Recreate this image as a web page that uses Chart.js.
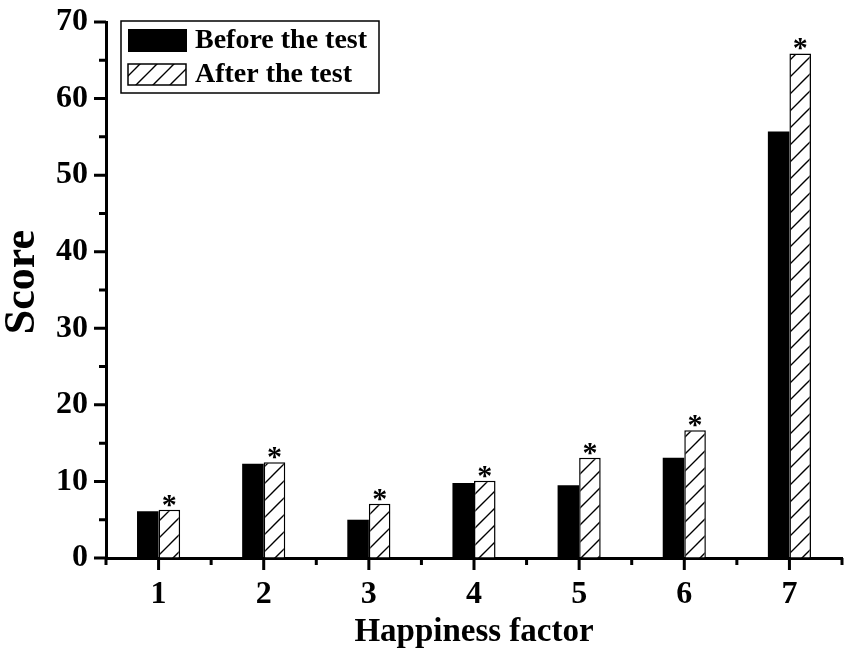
<!DOCTYPE html>
<html>
<head>
<meta charset="utf-8">
<script src="https://cdn.jsdelivr.net/npm/chart.js@4.4.1/dist/chart.umd.min.js"></script>
<style>
  html, body { margin: 0; padding: 0; background: #fff; }
</style>
</head>
<body>
<canvas id="scoreChart" width="851" height="651"></canvas>
<script>
const factors = ['1', '2', '3', '4', '5', '6', '7'];
const beforeTest = [6.1, 12.3, 5.0, 9.8, 9.5, 13.1, 55.7];
const afterTest = [6.3, 12.5, 7.1, 10.1, 13.1, 16.7, 65.9];
const afterSignificant = [true, true, true, true, true, true, true];
const yMax = 70;
const yMinorStep = 5;
const yMajorStep = 10;

const serif = '"Liberation Serif", "Times New Roman", serif';

const ctx = document.getElementById('scoreChart').getContext('2d');

function makeHatch() {
    const size = 17;
    const c = document.createElement('canvas');
    c.width = size;
    c.height = size;
    const g = c.getContext('2d');
    g.fillStyle = '#fff';
    g.fillRect(0, 0, size, size);
    g.strokeStyle = '#000';
    g.lineWidth = 1.4;
    g.beginPath();
    g.moveTo(-1, size + 1); g.lineTo(size + 1, -1);
    g.moveTo(-size / 2, size / 2); g.lineTo(size / 2, -size / 2);
    g.moveTo(size / 2, size * 1.5); g.lineTo(size * 1.5, size / 2);
    g.stroke();
    return ctx.createPattern(c, 'repeat');
}
const hatch = makeHatch();

// major + minor tick marks, pointing outward
const axisTicks = {
    id: 'axisTicks',
    afterDraw(chart) {
        const c = chart.ctx;
        const x = chart.scales.x, y = chart.scales.y;
        c.save();
        c.strokeStyle = '#000';
        c.lineWidth = 3;
        c.beginPath();
        y.ticks.forEach(t => {
            const py = y.getPixelForValue(t.value);
            const len = t.value % yMajorStep === 0 ? 12 : 7;
            c.moveTo(y.right - len, py);
            c.lineTo(y.right, py);
        });
        for (let i = 0; i < factors.length; i++) {
            const px = x.getPixelForValue(i);
            c.moveTo(px, x.top);
            c.lineTo(px, x.top + 12);
        }
        for (let i = 0; i <= factors.length; i++) {
            const px = x.getPixelForValue(i - 0.5);
            c.moveTo(px, x.top);
            c.lineTo(px, x.top + 7);
        }
        c.stroke();
        c.restore();
    }
};

const asterisks = {
    id: 'asterisks',
    afterDatasetsDraw(chart) {
        const c = chart.ctx;
        const meta = chart.getDatasetMeta(1);
        c.save();
        c.fillStyle = '#000';
        c.font = 'bold 30px ' + serif;
        c.textAlign = 'center';
        c.textBaseline = 'alphabetic';
        meta.data.forEach((bar, i) => {
            if (afterSignificant[i]) c.fillText('*', bar.x, bar.y + 4);
        });
        c.restore();
    }
};

const boxLegend = {
    id: 'boxLegend',
    afterDraw(chart) {
        const c = chart.ctx;
        const a = chart.chartArea;
        const left = a.left + 15, top = a.top - 1;
        c.save();
        c.fillStyle = '#fff';
        c.fillRect(left, top, 258, 72);
        c.strokeStyle = '#000';
        c.lineWidth = 1.5;
        c.strokeRect(left, top, 258, 72);
        c.fillStyle = '#000';
        c.fillRect(left + 7, top + 8, 59, 23);
        c.fillStyle = hatch;
        c.fillRect(left + 7, top + 43, 58, 21);
        c.strokeRect(left + 7, top + 43, 58, 21);
        c.fillStyle = '#000';
        c.font = 'bold 28px ' + serif;
        c.textBaseline = 'middle';
        c.fillText(chart.data.datasets[0].label, left + 74, top + 20);
        c.fillText(chart.data.datasets[1].label, left + 74, top + 54);
        c.restore();
    }
};

// y title drawn here so it can sit a little above the axis middle, as in the source
const yTitle = {
    id: 'yTitle',
    afterDraw(chart) {
        const c = chart.ctx;
        const a = chart.chartArea;
        c.save();
        c.translate(23, (a.top + a.bottom) / 2 - 8);
        c.rotate(-Math.PI / 2);
        c.fillStyle = '#000';
        c.font = 'bold 44px ' + serif;
        c.textAlign = 'center';
        c.textBaseline = 'middle';
        c.fillText('Score', 0, 0);
        c.restore();
    }
};

new Chart(ctx, {
    type: 'bar',
    data: {
        labels: factors,
        datasets: [{
            label: 'Before the test',
            data: beforeTest,
            backgroundColor: '#000',
            borderColor: '#000',
            borderWidth: 0,
            categoryPercentage: 0.41,
            barPercentage: 1.0
        }, {
            label: 'After the test',
            data: afterTest,
            backgroundColor: hatch,
            borderColor: '#000',
            borderWidth: 1.5,
            categoryPercentage: 0.41,
            barPercentage: 1.0
        }]
    },
    options: {
        responsive: false,
        animation: false,
        layout: { padding: { top: 19, right: 9, left: 0, bottom: 0 } },
        plugins: {
            legend: { display: false },
            tooltip: { enabled: false }
        },
        scales: {
            x: {
                offset: true,
                grid: { display: true, drawOnChartArea: false, drawTicks: true, tickLength: 12, color: 'rgba(0,0,0,0)' },
                border: { display: true, color: '#000', width: 3 },
                ticks: { color: '#000', padding: 6, font: { family: serif, size: 32, weight: 'bold' } },
                title: {
                    display: true, text: 'Happiness factor', color: '#000',
                    padding: { top: 0, bottom: 2 },
                    font: { family: serif, size: 33, weight: 'bold', lineHeight: 1 }
                },
                afterFit: (s) => { s.height = 93; }
            },
            y: {
                min: 0,
                max: yMax,
                grid: { display: true, drawOnChartArea: false, drawTicks: true, tickLength: 12, color: 'rgba(0,0,0,0)' },
                border: { display: true, color: '#000', width: 3 },
                ticks: {
                    stepSize: yMinorStep,
                    autoSkip: false,
                    color: '#000',
                    padding: 6,
                    font: { family: serif, size: 32, weight: 'bold', lineHeight: 1 },
                    callback: (v) => v % yMajorStep === 0 ? v : ''
                },
                title: { display: false },
                afterFit: (s) => { s.width = 106; }
            }
        }
    },
    plugins: [axisTicks, asterisks, boxLegend, yTitle]
});
</script>
</body>
</html>
